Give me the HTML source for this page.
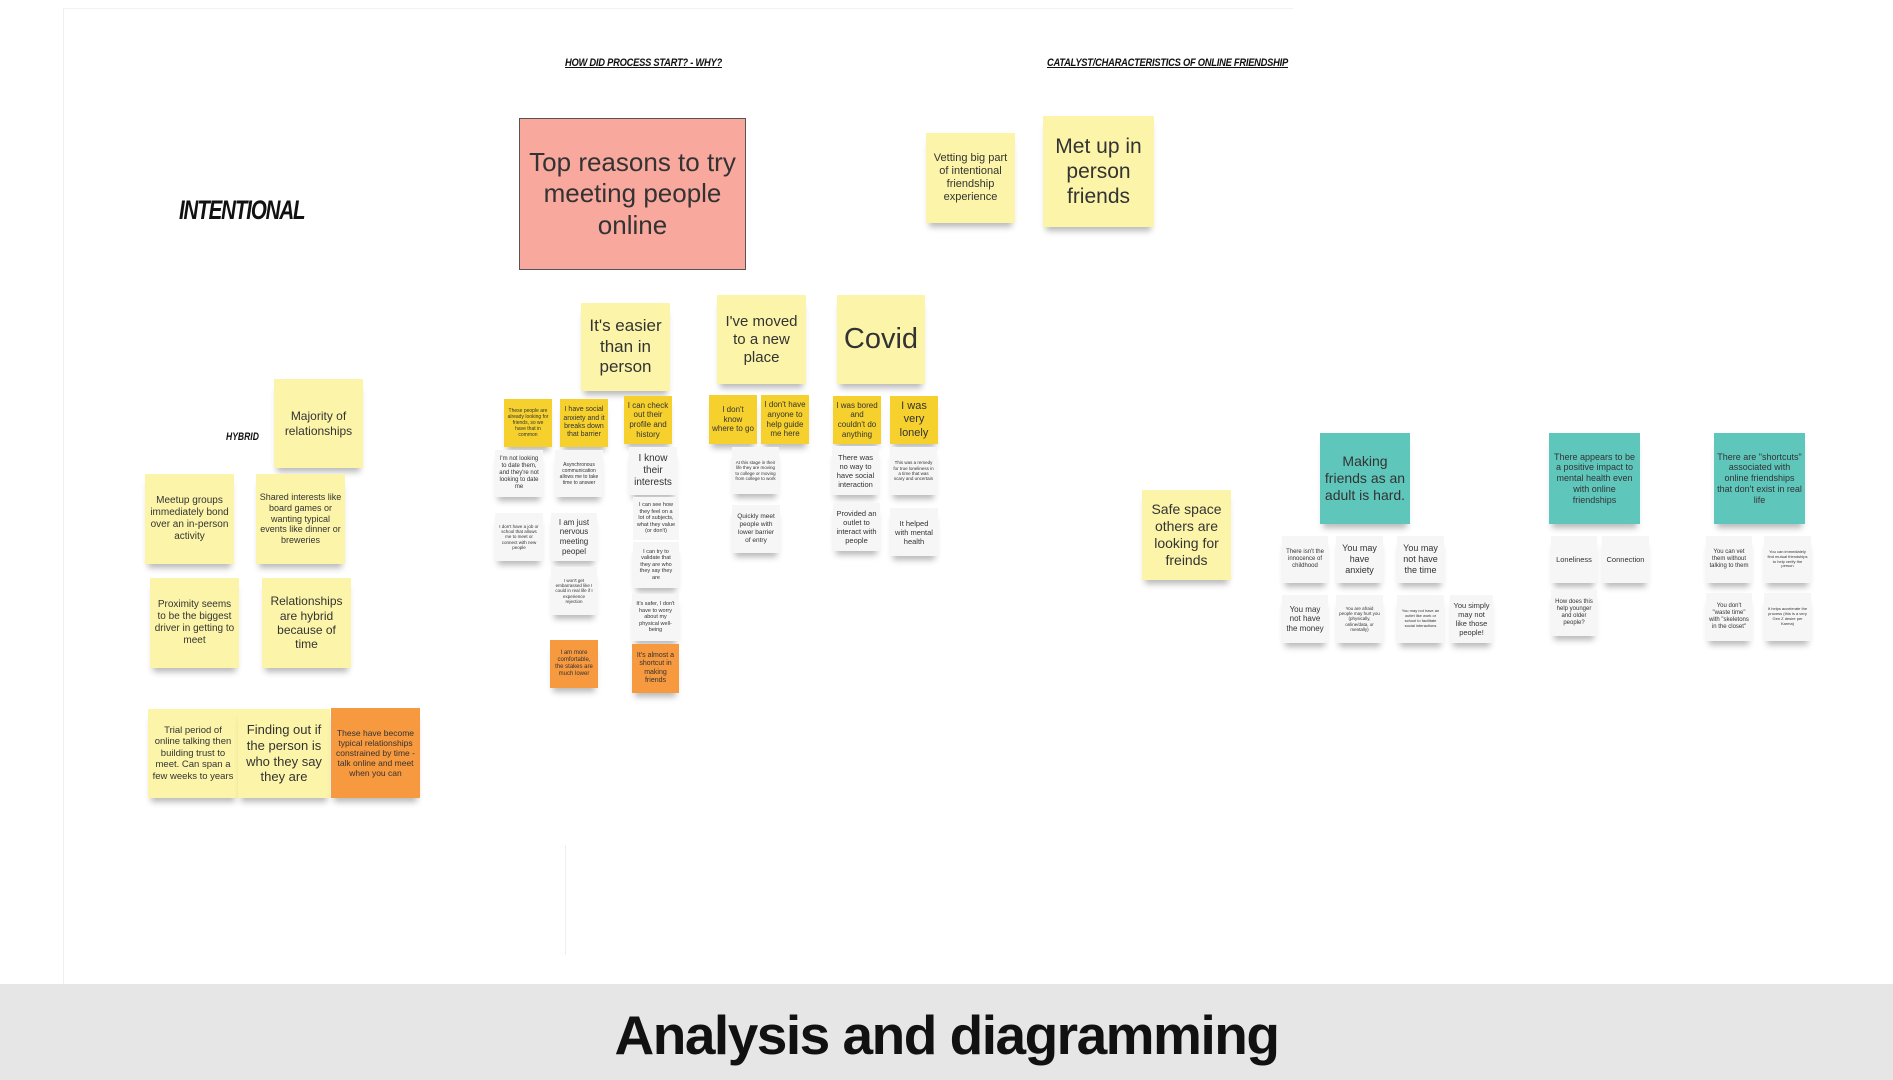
<!DOCTYPE html>
<html><head><meta charset="utf-8"><style>
*{margin:0;padding:0;box-sizing:border-box}
body{width:1893px;height:1080px;background:#fff;position:relative;overflow:hidden;font-family:"Liberation Sans",sans-serif;color:#333}
.canvas{position:absolute;left:63px;top:8px;width:1230px;height:976px;border-left:1px solid #eee;border-top:1px solid #f2f2f2}
.s{position:absolute;display:flex;align-items:center;justify-content:center;text-align:center;line-height:1.2;padding:3px;box-shadow:0 7px 6px -3px rgba(0,0,0,.28)}
.y{background:#fcf5a9}
.d{background:#f6d12e}
.o{background:#f7993f}
.w{background:#f6f6f6}
.t{background:#5fc6bc}
.h{position:absolute;font-weight:bold;font-style:italic;text-decoration:underline;font-size:11px;color:#111;letter-spacing:-.3px;transform-origin:0 0;transform:scaleX(.85);white-space:nowrap}
.footer{position:absolute;left:0;top:984px;width:1893px;height:96px;background:#e6e6e6}
</style></head><body>
<div class="canvas"></div>
<div class="h" style="left:565px;top:57px">HOW DID PROCESS START? - WHY?</div>
<div class="h" style="left:1047px;top:57px">CATALYST/CHARACTERISTICS OF ONLINE FRIENDSHIP</div>
<div style="position:absolute;left:179px;top:195px;font-size:27px;font-weight:bold;font-style:italic;color:#111;letter-spacing:-1.5px;transform-origin:0 0;transform:scaleX(.76);white-space:nowrap">INTENTIONAL</div>
<div style="position:absolute;left:226px;top:431px;font-size:11px;font-weight:bold;font-style:italic;color:#111;transform-origin:0 0;transform:scaleX(.78)">HYBRID</div>

<div class="s" style="left:519px;top:118px;width:227px;height:152px;background:#f9a89e;border:1px solid #555;font-size:26px;box-shadow:none">Top reasons to try meeting people online</div>
<div class="s y" style="left:926px;top:133px;width:89px;height:90px;font-size:11px">Vetting big part of intentional friendship experience</div>
<div class="s y" style="left:1043px;top:116px;width:111px;height:111px;font-size:21px">Met up in person friends</div>

<div class="s y" style="left:581px;top:303px;width:89px;height:88px;font-size:17px">It's easier than in person</div>
<div class="s y" style="left:717px;top:295px;width:89px;height:89px;font-size:15px">I've moved to a new place</div>
<div class="s y" style="left:837px;top:295px;width:88px;height:89px;font-size:29px">Covid</div>

<div class="s d" style="left:504px;top:399px;width:48px;height:48px;font-size:5px">These people are already looking for friends, so we have that in common</div>
<div class="s d" style="left:560px;top:399px;width:48px;height:48px;font-size:7px">I have social anxiety and it breaks down that barrier</div>
<div class="s d" style="left:624px;top:396px;width:48px;height:48px;font-size:8px">I can check out their profile and history</div>
<div class="s d" style="left:709px;top:395px;width:48px;height:49px;font-size:8px">I don't know where to go</div>
<div class="s d" style="left:761px;top:395px;width:48px;height:49px;font-size:8px">I don't have anyone to help guide me here</div>
<div class="s d" style="left:833px;top:396px;width:48px;height:48px;font-size:8px">I was bored and couldn't do anything</div>
<div class="s d" style="left:890px;top:396px;width:48px;height:48px;font-size:11px">I was very lonely</div>

<div class="s w" style="left:495px;top:450px;width:48px;height:47px;font-size:6px">I'm not looking to date them, and they're not looking to date me</div>
<div class="s w" style="left:495px;top:513px;width:48px;height:48px;font-size:4.5px">I don't have a job or school that allows me to meet or connect with new people</div>
<div class="s w" style="left:555px;top:450px;width:48px;height:47px;font-size:5px">Asynchronous communication allows me to take time to answer</div>
<div class="s w" style="left:551px;top:513px;width:46px;height:48px;font-size:8px">I am just nervous meeting peopel</div>
<div class="s w" style="left:551px;top:567px;width:46px;height:48px;font-size:4.5px">I won't get embarrassed like I could in real life if I experience rejection</div>
<div class="s o" style="left:550px;top:640px;width:48px;height:48px;font-size:6px">I am more comfortable, the stakes are much lower</div>
<div class="s w" style="left:629px;top:447px;width:48px;height:48px;font-size:10px">I know their interests</div>
<div class="s w" style="left:633px;top:497px;width:46px;height:43px;font-size:5.5px;box-shadow:none">I can see how they feel on a lot of subjects, what they value (or don't)</div>
<div class="s w" style="left:633px;top:542px;width:46px;height:46px;font-size:5.5px">I can try to validate that they are who they say they are</div>
<div class="s w" style="left:632px;top:594px;width:47px;height:47px;font-size:5.5px">It's safer, I don't have to worry about my physical well-being</div>
<div class="s o" style="left:632px;top:644px;width:47px;height:49px;font-size:7px">It's almost a shortcut in making friends</div>
<div class="s w" style="left:732px;top:447px;width:47px;height:47px;font-size:4.5px">At this stage in their life they are moving to college or moving from college to work</div>
<div class="s w" style="left:732px;top:505px;width:48px;height:48px;font-size:6.5px">Quickly meet people with lower barrier of entry</div>
<div class="s w" style="left:832px;top:446px;width:47px;height:49px;font-size:7.5px">There was no way to have social interaction</div>
<div class="s w" style="left:890px;top:447px;width:47px;height:48px;font-size:4.5px">This was a remedy for true loneliness in a time that was scary and uncertain</div>
<div class="s w" style="left:833px;top:503px;width:47px;height:48px;font-size:7.5px">Provided an outlet to interact with people</div>
<div class="s w" style="left:890px;top:508px;width:48px;height:48px;font-size:7.5px">It helped with mental health</div>

<div class="s y" style="left:274px;top:379px;width:89px;height:89px;font-size:12px">Majority of relationships</div>
<div class="s y" style="left:145px;top:474px;width:89px;height:90px;font-size:10px">Meetup groups immediately bond over an in-person activity</div>
<div class="s y" style="left:256px;top:474px;width:89px;height:90px;font-size:9px">Shared interests like board games or wanting typical events like dinner or breweries</div>
<div class="s y" style="left:150px;top:578px;width:89px;height:90px;font-size:10px">Proximity seems to be the biggest driver in getting to meet</div>
<div class="s y" style="left:262px;top:578px;width:89px;height:90px;font-size:12px">Relationships are hybrid because of time</div>
<div class="s y" style="left:148px;top:709px;width:90px;height:89px;font-size:9.5px">Trial period of online talking then building trust to meet. Can span a few weeks to years</div>
<div class="s y" style="left:238px;top:709px;width:92px;height:89px;font-size:13px">Finding out if the person is who they say they are</div>
<div class="s o" style="left:331px;top:708px;width:89px;height:90px;font-size:8.5px">These have become typical relationships constrained by time - talk online and meet when you can</div>

<div class="s y" style="left:1142px;top:490px;width:89px;height:90px;font-size:14px">Safe space others are looking for freinds</div>

<div class="s t" style="left:1320px;top:433px;width:90px;height:91px;font-size:14px">Making friends as an adult is hard.</div>
<div class="s t" style="left:1549px;top:433px;width:91px;height:91px;font-size:9px">There appears to be a positive impact to mental health even with online friendships</div>
<div class="s t" style="left:1714px;top:433px;width:91px;height:91px;font-size:9px">There are "shortcuts" associated with online friendships that don't exist in real life</div>

<div class="s w" style="left:1282px;top:536px;width:46px;height:47px;font-size:6px">There isn't the innocence of childhood</div>
<div class="s w" style="left:1336px;top:536px;width:47px;height:47px;font-size:9px">You may have anxiety</div>
<div class="s w" style="left:1397px;top:536px;width:47px;height:47px;font-size:9px">You may not have the time</div>
<div class="s w" style="left:1282px;top:595px;width:46px;height:48px;font-size:8px">You may not have the money</div>
<div class="s w" style="left:1336px;top:595px;width:47px;height:48px;font-size:4.5px">You are afraid people may hurt you (physically, online/data, or mentally)</div>
<div class="s w" style="left:1397px;top:595px;width:47px;height:48px;font-size:4px">You may not have an outlet like work or school to facilitate social interactions</div>
<div class="s w" style="left:1450px;top:595px;width:43px;height:48px;font-size:7.5px">You simply may not like those people!</div>

<div class="s w" style="left:1551px;top:536px;width:46px;height:47px;font-size:7.5px">Loneliness</div>
<div class="s w" style="left:1602px;top:536px;width:47px;height:47px;font-size:7.5px">Connection</div>
<div class="s w" style="left:1551px;top:590px;width:46px;height:46px;font-size:6px">How does this help younger and older people?</div>

<div class="s w" style="left:1706px;top:536px;width:46px;height:47px;font-size:6px">You can vet them without talking to them</div>
<div class="s w" style="left:1764px;top:536px;width:47px;height:47px;font-size:4px">You can immediately find mutual friendships to help verify the person</div>
<div class="s w" style="left:1706px;top:593px;width:46px;height:48px;font-size:6px">You don't "waste time" with "skeletons in the closet"</div>
<div class="s w" style="left:1764px;top:593px;width:47px;height:48px;font-size:4px">It helps accelerate the process (this is a very Gen Z desire per Karma)</div>

<div style="position:absolute;left:565px;top:845px;width:1px;height:110px;background:#eee"></div>

<div class="footer"></div>
<div style="position:absolute;left:0;top:1003px;width:1893px;text-align:center;font-size:55px;font-weight:bold;color:#111;letter-spacing:-1.5px">Analysis and diagramming</div>
</body></html>
